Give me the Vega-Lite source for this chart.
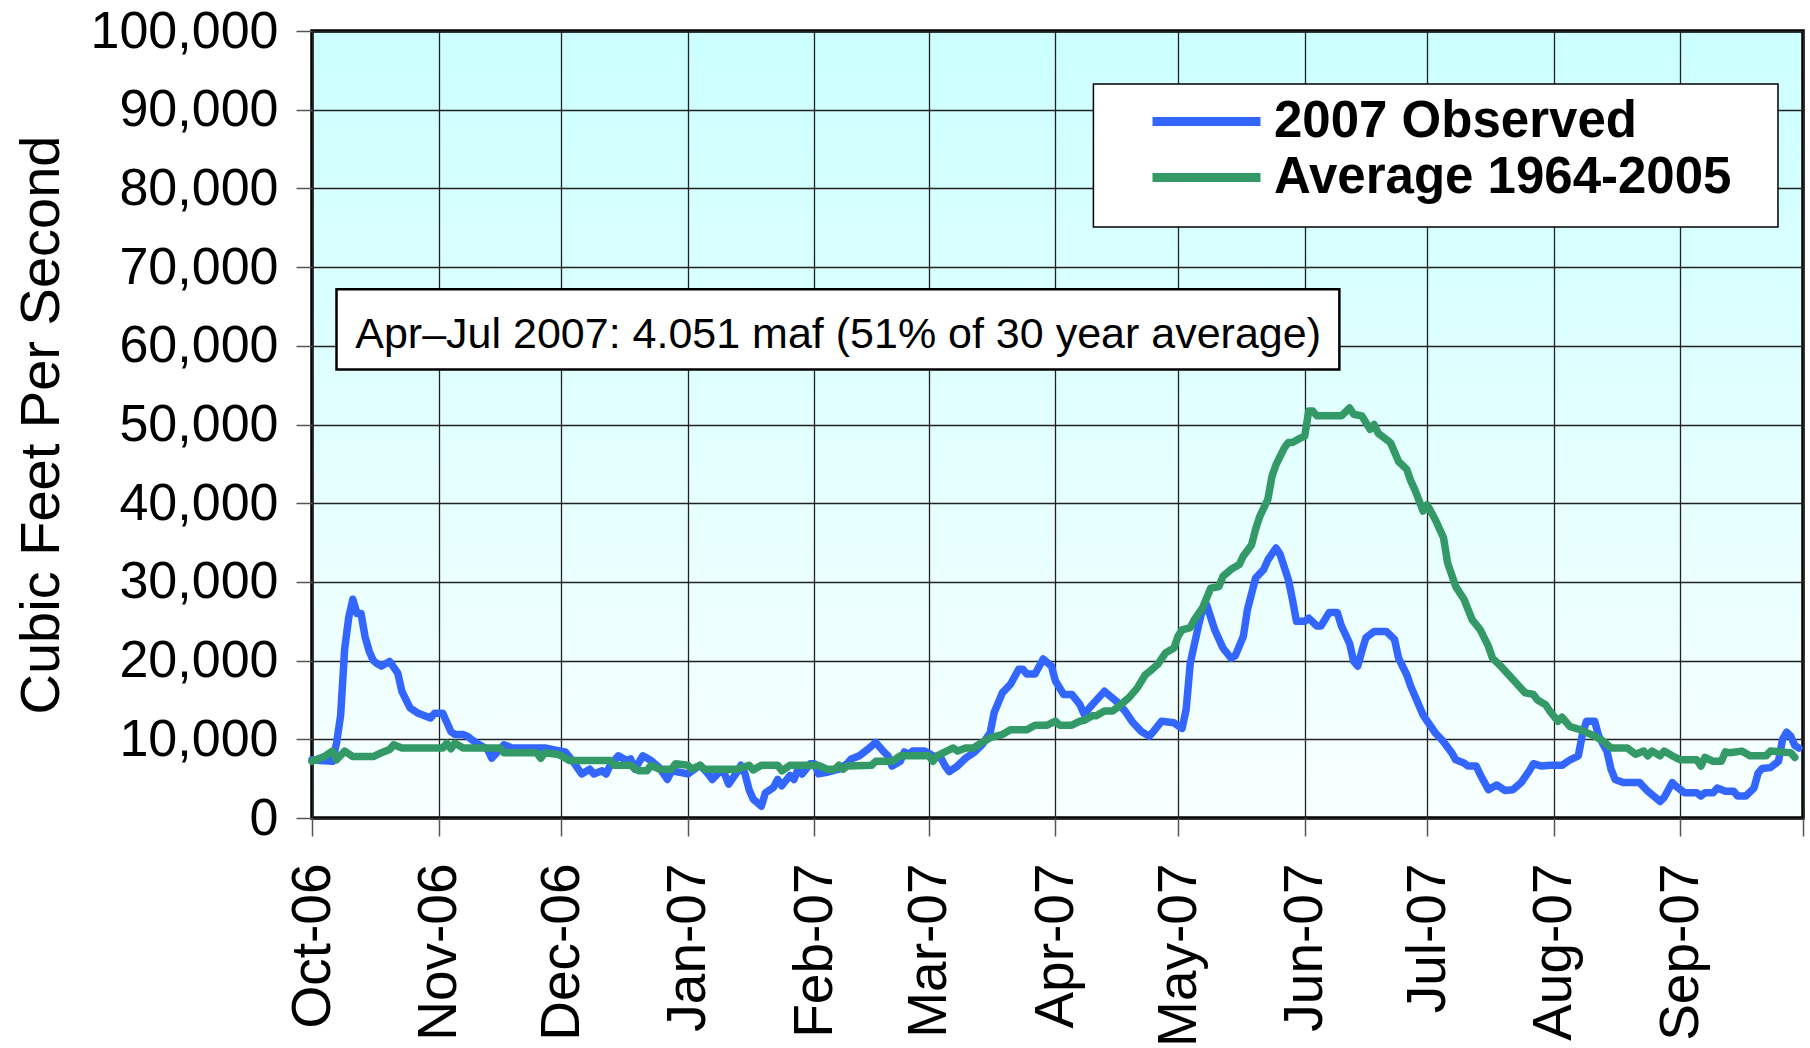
{
  "$schema": "https://vega.github.io/schema/vega-lite/v6.json",
  "width": 1491,
  "height": 787,
  "autosize": {"type": "none"},
  "padding": {"left": 312, "top": 31, "right": 7, "bottom": 230},
  "background": "white",
  "config": {
    "font": "Liberation Sans",
    "view": {
      "fill": {"gradient": "linear", "x1": 0, "y1": 0, "x2": 0, "y2": 1,
        "stops": [{"offset": 0, "color": "#ccffff"}, {"offset": 1, "color": "#f8ffff"}]},
      "stroke": "#000000",
      "strokeWidth": 3.5
    },
    "axis": {
      "labelFont": "Liberation Sans",
      "labelColor": "#000000",
      "titleFont": "Liberation Sans",
      "titleColor": "#000000",
      "gridColor": "#222222",
      "gridWidth": 1.3,
      "tickColor": "#555555",
      "tickWidth": 1.5,
      "domain": false,
      "labelFlush": false,
      "labelOverlap": false,
      "labelBound": false,
      "labelLimit": 500
    }
  },
  "data": {
    "format": {"parse": {"date": "date:'%Y-%m-%d'"}},
    "values": [
      {"date": "2006-10-01", "series": "2007 Observed", "cfs": 7400},
      {"date": "2006-10-03", "series": "2007 Observed", "cfs": 7300},
      {"date": "2006-10-06", "series": "2007 Observed", "cfs": 7200},
      {"date": "2006-10-07", "series": "2007 Observed", "cfs": 9500},
      {"date": "2006-10-08", "series": "2007 Observed", "cfs": 13000},
      {"date": "2006-10-09", "series": "2007 Observed", "cfs": 21500},
      {"date": "2006-10-10", "series": "2007 Observed", "cfs": 25500},
      {"date": "2006-10-11", "series": "2007 Observed", "cfs": 27800},
      {"date": "2006-10-12", "series": "2007 Observed", "cfs": 26000},
      {"date": "2006-10-13", "series": "2007 Observed", "cfs": 26000},
      {"date": "2006-10-14", "series": "2007 Observed", "cfs": 23000},
      {"date": "2006-10-15", "series": "2007 Observed", "cfs": 21200},
      {"date": "2006-10-16", "series": "2007 Observed", "cfs": 20000},
      {"date": "2006-10-17", "series": "2007 Observed", "cfs": 19600},
      {"date": "2006-10-18", "series": "2007 Observed", "cfs": 19300},
      {"date": "2006-10-20", "series": "2007 Observed", "cfs": 19900},
      {"date": "2006-10-22", "series": "2007 Observed", "cfs": 18400},
      {"date": "2006-10-23", "series": "2007 Observed", "cfs": 16100},
      {"date": "2006-10-25", "series": "2007 Observed", "cfs": 14000},
      {"date": "2006-10-27", "series": "2007 Observed", "cfs": 13300},
      {"date": "2006-10-30", "series": "2007 Observed", "cfs": 12700},
      {"date": "2006-10-31", "series": "2007 Observed", "cfs": 13300},
      {"date": "2006-11-02", "series": "2007 Observed", "cfs": 13300},
      {"date": "2006-11-04", "series": "2007 Observed", "cfs": 11000},
      {"date": "2006-11-05", "series": "2007 Observed", "cfs": 10600},
      {"date": "2006-11-07", "series": "2007 Observed", "cfs": 10600},
      {"date": "2006-11-08", "series": "2007 Observed", "cfs": 10400},
      {"date": "2006-11-09", "series": "2007 Observed", "cfs": 10000},
      {"date": "2006-11-11", "series": "2007 Observed", "cfs": 9300},
      {"date": "2006-11-13", "series": "2007 Observed", "cfs": 8700},
      {"date": "2006-11-14", "series": "2007 Observed", "cfs": 7600},
      {"date": "2006-11-16", "series": "2007 Observed", "cfs": 8700},
      {"date": "2006-11-17", "series": "2007 Observed", "cfs": 9300},
      {"date": "2006-11-19", "series": "2007 Observed", "cfs": 8900},
      {"date": "2006-11-27", "series": "2007 Observed", "cfs": 8900},
      {"date": "2006-11-30", "series": "2007 Observed", "cfs": 8600},
      {"date": "2006-12-02", "series": "2007 Observed", "cfs": 8400},
      {"date": "2006-12-04", "series": "2007 Observed", "cfs": 7100},
      {"date": "2006-12-06", "series": "2007 Observed", "cfs": 5600},
      {"date": "2006-12-08", "series": "2007 Observed", "cfs": 6200},
      {"date": "2006-12-09", "series": "2007 Observed", "cfs": 5600},
      {"date": "2006-12-11", "series": "2007 Observed", "cfs": 6000},
      {"date": "2006-12-12", "series": "2007 Observed", "cfs": 5600},
      {"date": "2006-12-13", "series": "2007 Observed", "cfs": 6700},
      {"date": "2006-12-15", "series": "2007 Observed", "cfs": 7900},
      {"date": "2006-12-17", "series": "2007 Observed", "cfs": 7300},
      {"date": "2006-12-18", "series": "2007 Observed", "cfs": 7500},
      {"date": "2006-12-19", "series": "2007 Observed", "cfs": 6200},
      {"date": "2006-12-21", "series": "2007 Observed", "cfs": 7900},
      {"date": "2006-12-23", "series": "2007 Observed", "cfs": 7300},
      {"date": "2006-12-25", "series": "2007 Observed", "cfs": 6400},
      {"date": "2006-12-27", "series": "2007 Observed", "cfs": 4900},
      {"date": "2006-12-28", "series": "2007 Observed", "cfs": 6000},
      {"date": "2007-01-01", "series": "2007 Observed", "cfs": 5600},
      {"date": "2007-01-04", "series": "2007 Observed", "cfs": 6700},
      {"date": "2007-01-06", "series": "2007 Observed", "cfs": 5600},
      {"date": "2007-01-07", "series": "2007 Observed", "cfs": 4900},
      {"date": "2007-01-09", "series": "2007 Observed", "cfs": 6000},
      {"date": "2007-01-10", "series": "2007 Observed", "cfs": 5600},
      {"date": "2007-01-11", "series": "2007 Observed", "cfs": 4300},
      {"date": "2007-01-13", "series": "2007 Observed", "cfs": 5800},
      {"date": "2007-01-14", "series": "2007 Observed", "cfs": 6700},
      {"date": "2007-01-15", "series": "2007 Observed", "cfs": 5600},
      {"date": "2007-01-16", "series": "2007 Observed", "cfs": 3600},
      {"date": "2007-01-17", "series": "2007 Observed", "cfs": 2400},
      {"date": "2007-01-19", "series": "2007 Observed", "cfs": 1500},
      {"date": "2007-01-20", "series": "2007 Observed", "cfs": 3200},
      {"date": "2007-01-22", "series": "2007 Observed", "cfs": 3900},
      {"date": "2007-01-23", "series": "2007 Observed", "cfs": 4900},
      {"date": "2007-01-24", "series": "2007 Observed", "cfs": 4100},
      {"date": "2007-01-26", "series": "2007 Observed", "cfs": 5400},
      {"date": "2007-01-27", "series": "2007 Observed", "cfs": 4900},
      {"date": "2007-01-28", "series": "2007 Observed", "cfs": 6200},
      {"date": "2007-01-29", "series": "2007 Observed", "cfs": 5600},
      {"date": "2007-01-31", "series": "2007 Observed", "cfs": 6900},
      {"date": "2007-02-01", "series": "2007 Observed", "cfs": 6900},
      {"date": "2007-02-02", "series": "2007 Observed", "cfs": 5600},
      {"date": "2007-02-04", "series": "2007 Observed", "cfs": 5800},
      {"date": "2007-02-07", "series": "2007 Observed", "cfs": 6200},
      {"date": "2007-02-09", "series": "2007 Observed", "cfs": 6900},
      {"date": "2007-02-10", "series": "2007 Observed", "cfs": 7500},
      {"date": "2007-02-12", "series": "2007 Observed", "cfs": 7900},
      {"date": "2007-02-14", "series": "2007 Observed", "cfs": 8700},
      {"date": "2007-02-16", "series": "2007 Observed", "cfs": 9600},
      {"date": "2007-02-18", "series": "2007 Observed", "cfs": 8400},
      {"date": "2007-02-19", "series": "2007 Observed", "cfs": 7900},
      {"date": "2007-02-20", "series": "2007 Observed", "cfs": 6600},
      {"date": "2007-02-22", "series": "2007 Observed", "cfs": 7200},
      {"date": "2007-02-23", "series": "2007 Observed", "cfs": 8400},
      {"date": "2007-02-24", "series": "2007 Observed", "cfs": 8100},
      {"date": "2007-02-25", "series": "2007 Observed", "cfs": 8500},
      {"date": "2007-02-28", "series": "2007 Observed", "cfs": 8500},
      {"date": "2007-03-02", "series": "2007 Observed", "cfs": 7900},
      {"date": "2007-03-04", "series": "2007 Observed", "cfs": 7600},
      {"date": "2007-03-05", "series": "2007 Observed", "cfs": 6600},
      {"date": "2007-03-06", "series": "2007 Observed", "cfs": 5900},
      {"date": "2007-03-08", "series": "2007 Observed", "cfs": 6600},
      {"date": "2007-03-10", "series": "2007 Observed", "cfs": 7600},
      {"date": "2007-03-12", "series": "2007 Observed", "cfs": 8300},
      {"date": "2007-03-14", "series": "2007 Observed", "cfs": 9300},
      {"date": "2007-03-16", "series": "2007 Observed", "cfs": 10800},
      {"date": "2007-03-17", "series": "2007 Observed", "cfs": 13400},
      {"date": "2007-03-19", "series": "2007 Observed", "cfs": 15900},
      {"date": "2007-03-21", "series": "2007 Observed", "cfs": 17000},
      {"date": "2007-03-23", "series": "2007 Observed", "cfs": 18900},
      {"date": "2007-03-24", "series": "2007 Observed", "cfs": 18900},
      {"date": "2007-03-25", "series": "2007 Observed", "cfs": 18300},
      {"date": "2007-03-27", "series": "2007 Observed", "cfs": 18300},
      {"date": "2007-03-29", "series": "2007 Observed", "cfs": 20200},
      {"date": "2007-03-31", "series": "2007 Observed", "cfs": 19300},
      {"date": "2007-04-01", "series": "2007 Observed", "cfs": 17400},
      {"date": "2007-04-03", "series": "2007 Observed", "cfs": 15700},
      {"date": "2007-04-05", "series": "2007 Observed", "cfs": 15700},
      {"date": "2007-04-07", "series": "2007 Observed", "cfs": 14400},
      {"date": "2007-04-08", "series": "2007 Observed", "cfs": 13200},
      {"date": "2007-04-10", "series": "2007 Observed", "cfs": 14400},
      {"date": "2007-04-13", "series": "2007 Observed", "cfs": 16100},
      {"date": "2007-04-16", "series": "2007 Observed", "cfs": 14800},
      {"date": "2007-04-18", "series": "2007 Observed", "cfs": 13600},
      {"date": "2007-04-20", "series": "2007 Observed", "cfs": 12100},
      {"date": "2007-04-22", "series": "2007 Observed", "cfs": 11000},
      {"date": "2007-04-24", "series": "2007 Observed", "cfs": 10400},
      {"date": "2007-04-25", "series": "2007 Observed", "cfs": 11000},
      {"date": "2007-04-27", "series": "2007 Observed", "cfs": 12300},
      {"date": "2007-04-30", "series": "2007 Observed", "cfs": 12100},
      {"date": "2007-05-02", "series": "2007 Observed", "cfs": 11400},
      {"date": "2007-05-03", "series": "2007 Observed", "cfs": 13800},
      {"date": "2007-05-04", "series": "2007 Observed", "cfs": 19700},
      {"date": "2007-05-06", "series": "2007 Observed", "cfs": 24400},
      {"date": "2007-05-07", "series": "2007 Observed", "cfs": 26500},
      {"date": "2007-05-08", "series": "2007 Observed", "cfs": 27100},
      {"date": "2007-05-10", "series": "2007 Observed", "cfs": 23900},
      {"date": "2007-05-12", "series": "2007 Observed", "cfs": 21600},
      {"date": "2007-05-14", "series": "2007 Observed", "cfs": 20300},
      {"date": "2007-05-15", "series": "2007 Observed", "cfs": 20600},
      {"date": "2007-05-17", "series": "2007 Observed", "cfs": 23100},
      {"date": "2007-05-18", "series": "2007 Observed", "cfs": 26500},
      {"date": "2007-05-20", "series": "2007 Observed", "cfs": 30500},
      {"date": "2007-05-22", "series": "2007 Observed", "cfs": 31600},
      {"date": "2007-05-23", "series": "2007 Observed", "cfs": 32800},
      {"date": "2007-05-25", "series": "2007 Observed", "cfs": 34300},
      {"date": "2007-05-26", "series": "2007 Observed", "cfs": 33500},
      {"date": "2007-05-28", "series": "2007 Observed", "cfs": 30300},
      {"date": "2007-05-29", "series": "2007 Observed", "cfs": 27800},
      {"date": "2007-05-30", "series": "2007 Observed", "cfs": 25000},
      {"date": "2007-06-01", "series": "2007 Observed", "cfs": 25000},
      {"date": "2007-06-02", "series": "2007 Observed", "cfs": 25400},
      {"date": "2007-06-04", "series": "2007 Observed", "cfs": 24400},
      {"date": "2007-06-05", "series": "2007 Observed", "cfs": 24400},
      {"date": "2007-06-07", "series": "2007 Observed", "cfs": 26100},
      {"date": "2007-06-09", "series": "2007 Observed", "cfs": 26100},
      {"date": "2007-06-10", "series": "2007 Observed", "cfs": 24400},
      {"date": "2007-06-12", "series": "2007 Observed", "cfs": 22200},
      {"date": "2007-06-13", "series": "2007 Observed", "cfs": 19900},
      {"date": "2007-06-14", "series": "2007 Observed", "cfs": 19300},
      {"date": "2007-06-15", "series": "2007 Observed", "cfs": 21200},
      {"date": "2007-06-16", "series": "2007 Observed", "cfs": 22900},
      {"date": "2007-06-18", "series": "2007 Observed", "cfs": 23700},
      {"date": "2007-06-21", "series": "2007 Observed", "cfs": 23700},
      {"date": "2007-06-23", "series": "2007 Observed", "cfs": 22700},
      {"date": "2007-06-24", "series": "2007 Observed", "cfs": 20300},
      {"date": "2007-06-26", "series": "2007 Observed", "cfs": 18200},
      {"date": "2007-06-27", "series": "2007 Observed", "cfs": 16700},
      {"date": "2007-06-30", "series": "2007 Observed", "cfs": 13100},
      {"date": "2007-07-01", "series": "2007 Observed", "cfs": 12300},
      {"date": "2007-07-03", "series": "2007 Observed", "cfs": 10800},
      {"date": "2007-07-05", "series": "2007 Observed", "cfs": 9700},
      {"date": "2007-07-07", "series": "2007 Observed", "cfs": 8300},
      {"date": "2007-07-08", "series": "2007 Observed", "cfs": 7400},
      {"date": "2007-07-10", "series": "2007 Observed", "cfs": 7000},
      {"date": "2007-07-11", "series": "2007 Observed", "cfs": 6600},
      {"date": "2007-07-13", "series": "2007 Observed", "cfs": 6600},
      {"date": "2007-07-14", "series": "2007 Observed", "cfs": 5500},
      {"date": "2007-07-16", "series": "2007 Observed", "cfs": 3600},
      {"date": "2007-07-18", "series": "2007 Observed", "cfs": 4200},
      {"date": "2007-07-20", "series": "2007 Observed", "cfs": 3500},
      {"date": "2007-07-22", "series": "2007 Observed", "cfs": 3600},
      {"date": "2007-07-24", "series": "2007 Observed", "cfs": 4500},
      {"date": "2007-07-26", "series": "2007 Observed", "cfs": 6000},
      {"date": "2007-07-27", "series": "2007 Observed", "cfs": 6900},
      {"date": "2007-07-29", "series": "2007 Observed", "cfs": 6600},
      {"date": "2007-07-31", "series": "2007 Observed", "cfs": 6700},
      {"date": "2007-08-03", "series": "2007 Observed", "cfs": 6700},
      {"date": "2007-08-05", "series": "2007 Observed", "cfs": 7400},
      {"date": "2007-08-07", "series": "2007 Observed", "cfs": 7900},
      {"date": "2007-08-08", "series": "2007 Observed", "cfs": 10600},
      {"date": "2007-08-09", "series": "2007 Observed", "cfs": 12300},
      {"date": "2007-08-11", "series": "2007 Observed", "cfs": 12300},
      {"date": "2007-08-12", "series": "2007 Observed", "cfs": 10400},
      {"date": "2007-08-14", "series": "2007 Observed", "cfs": 8500},
      {"date": "2007-08-15", "series": "2007 Observed", "cfs": 6200},
      {"date": "2007-08-16", "series": "2007 Observed", "cfs": 4900},
      {"date": "2007-08-18", "series": "2007 Observed", "cfs": 4500},
      {"date": "2007-08-22", "series": "2007 Observed", "cfs": 4500},
      {"date": "2007-08-24", "series": "2007 Observed", "cfs": 3400},
      {"date": "2007-08-27", "series": "2007 Observed", "cfs": 2100},
      {"date": "2007-08-28", "series": "2007 Observed", "cfs": 2600},
      {"date": "2007-08-30", "series": "2007 Observed", "cfs": 4500},
      {"date": "2007-08-31", "series": "2007 Observed", "cfs": 4000},
      {"date": "2007-09-02", "series": "2007 Observed", "cfs": 3200},
      {"date": "2007-09-05", "series": "2007 Observed", "cfs": 3200},
      {"date": "2007-09-06", "series": "2007 Observed", "cfs": 2800},
      {"date": "2007-09-07", "series": "2007 Observed", "cfs": 3200},
      {"date": "2007-09-09", "series": "2007 Observed", "cfs": 3200},
      {"date": "2007-09-10", "series": "2007 Observed", "cfs": 3800},
      {"date": "2007-09-12", "series": "2007 Observed", "cfs": 3400},
      {"date": "2007-09-14", "series": "2007 Observed", "cfs": 3400},
      {"date": "2007-09-15", "series": "2007 Observed", "cfs": 2800},
      {"date": "2007-09-17", "series": "2007 Observed", "cfs": 2800},
      {"date": "2007-09-19", "series": "2007 Observed", "cfs": 3800},
      {"date": "2007-09-20", "series": "2007 Observed", "cfs": 5700},
      {"date": "2007-09-21", "series": "2007 Observed", "cfs": 6300},
      {"date": "2007-09-23", "series": "2007 Observed", "cfs": 6400},
      {"date": "2007-09-25", "series": "2007 Observed", "cfs": 7200},
      {"date": "2007-09-26", "series": "2007 Observed", "cfs": 10000},
      {"date": "2007-09-27", "series": "2007 Observed", "cfs": 10900},
      {"date": "2007-09-28", "series": "2007 Observed", "cfs": 10400},
      {"date": "2007-09-29", "series": "2007 Observed", "cfs": 9200},
      {"date": "2007-09-30", "series": "2007 Observed", "cfs": 8900},
      {"date": "2006-10-01", "series": "Average 1964-2005", "cfs": 7200},
      {"date": "2006-10-04", "series": "Average 1964-2005", "cfs": 7800},
      {"date": "2006-10-06", "series": "Average 1964-2005", "cfs": 8500},
      {"date": "2006-10-07", "series": "Average 1964-2005", "cfs": 7400},
      {"date": "2006-10-09", "series": "Average 1964-2005", "cfs": 8500},
      {"date": "2006-10-11", "series": "Average 1964-2005", "cfs": 7800},
      {"date": "2006-10-16", "series": "Average 1964-2005", "cfs": 7800},
      {"date": "2006-10-18", "series": "Average 1964-2005", "cfs": 8300},
      {"date": "2006-10-20", "series": "Average 1964-2005", "cfs": 8700},
      {"date": "2006-10-21", "series": "Average 1964-2005", "cfs": 9300},
      {"date": "2006-10-23", "series": "Average 1964-2005", "cfs": 8900},
      {"date": "2006-11-02", "series": "Average 1964-2005", "cfs": 8900},
      {"date": "2006-11-03", "series": "Average 1964-2005", "cfs": 9500},
      {"date": "2006-11-04", "series": "Average 1964-2005", "cfs": 8800},
      {"date": "2006-11-05", "series": "Average 1964-2005", "cfs": 9500},
      {"date": "2006-11-07", "series": "Average 1964-2005", "cfs": 8900},
      {"date": "2006-11-16", "series": "Average 1964-2005", "cfs": 8900},
      {"date": "2006-11-17", "series": "Average 1964-2005", "cfs": 8300},
      {"date": "2006-11-25", "series": "Average 1964-2005", "cfs": 8300},
      {"date": "2006-11-26", "series": "Average 1964-2005", "cfs": 7600},
      {"date": "2006-11-27", "series": "Average 1964-2005", "cfs": 8300},
      {"date": "2006-11-30", "series": "Average 1964-2005", "cfs": 8100},
      {"date": "2006-12-01", "series": "Average 1964-2005", "cfs": 7900},
      {"date": "2006-12-03", "series": "Average 1964-2005", "cfs": 7300},
      {"date": "2006-12-13", "series": "Average 1964-2005", "cfs": 7300},
      {"date": "2006-12-14", "series": "Average 1964-2005", "cfs": 6700},
      {"date": "2006-12-18", "series": "Average 1964-2005", "cfs": 6700},
      {"date": "2006-12-20", "series": "Average 1964-2005", "cfs": 6000},
      {"date": "2006-12-22", "series": "Average 1964-2005", "cfs": 6000},
      {"date": "2006-12-23", "series": "Average 1964-2005", "cfs": 6700},
      {"date": "2006-12-25", "series": "Average 1964-2005", "cfs": 6200},
      {"date": "2006-12-28", "series": "Average 1964-2005", "cfs": 6200},
      {"date": "2006-12-29", "series": "Average 1964-2005", "cfs": 6900},
      {"date": "2007-01-01", "series": "Average 1964-2005", "cfs": 6700},
      {"date": "2007-01-02", "series": "Average 1964-2005", "cfs": 6200},
      {"date": "2007-01-04", "series": "Average 1964-2005", "cfs": 6700},
      {"date": "2007-01-05", "series": "Average 1964-2005", "cfs": 6200},
      {"date": "2007-01-13", "series": "Average 1964-2005", "cfs": 6200},
      {"date": "2007-01-16", "series": "Average 1964-2005", "cfs": 6700},
      {"date": "2007-01-17", "series": "Average 1964-2005", "cfs": 6100},
      {"date": "2007-01-19", "series": "Average 1964-2005", "cfs": 6700},
      {"date": "2007-01-23", "series": "Average 1964-2005", "cfs": 6700},
      {"date": "2007-01-24", "series": "Average 1964-2005", "cfs": 6000},
      {"date": "2007-01-26", "series": "Average 1964-2005", "cfs": 6700},
      {"date": "2007-02-02", "series": "Average 1964-2005", "cfs": 6700},
      {"date": "2007-02-04", "series": "Average 1964-2005", "cfs": 6200},
      {"date": "2007-02-06", "series": "Average 1964-2005", "cfs": 6200},
      {"date": "2007-02-07", "series": "Average 1964-2005", "cfs": 6700},
      {"date": "2007-02-08", "series": "Average 1964-2005", "cfs": 6200},
      {"date": "2007-02-09", "series": "Average 1964-2005", "cfs": 6600},
      {"date": "2007-02-15", "series": "Average 1964-2005", "cfs": 6700},
      {"date": "2007-02-16", "series": "Average 1964-2005", "cfs": 7200},
      {"date": "2007-02-20", "series": "Average 1964-2005", "cfs": 7200},
      {"date": "2007-02-22", "series": "Average 1964-2005", "cfs": 7900},
      {"date": "2007-03-01", "series": "Average 1964-2005", "cfs": 7900},
      {"date": "2007-03-02", "series": "Average 1964-2005", "cfs": 7200},
      {"date": "2007-03-03", "series": "Average 1964-2005", "cfs": 7900},
      {"date": "2007-03-05", "series": "Average 1964-2005", "cfs": 8400},
      {"date": "2007-03-07", "series": "Average 1964-2005", "cfs": 8900},
      {"date": "2007-03-08", "series": "Average 1964-2005", "cfs": 8500},
      {"date": "2007-03-10", "series": "Average 1964-2005", "cfs": 8900},
      {"date": "2007-03-12", "series": "Average 1964-2005", "cfs": 8900},
      {"date": "2007-03-14", "series": "Average 1964-2005", "cfs": 9600},
      {"date": "2007-03-16", "series": "Average 1964-2005", "cfs": 10200},
      {"date": "2007-03-19", "series": "Average 1964-2005", "cfs": 10600},
      {"date": "2007-03-21", "series": "Average 1964-2005", "cfs": 11200},
      {"date": "2007-03-25", "series": "Average 1964-2005", "cfs": 11200},
      {"date": "2007-03-27", "series": "Average 1964-2005", "cfs": 11800},
      {"date": "2007-03-30", "series": "Average 1964-2005", "cfs": 11800},
      {"date": "2007-04-01", "series": "Average 1964-2005", "cfs": 12300},
      {"date": "2007-04-02", "series": "Average 1964-2005", "cfs": 11800},
      {"date": "2007-04-05", "series": "Average 1964-2005", "cfs": 11800},
      {"date": "2007-04-07", "series": "Average 1964-2005", "cfs": 12300},
      {"date": "2007-04-08", "series": "Average 1964-2005", "cfs": 12400},
      {"date": "2007-04-10", "series": "Average 1964-2005", "cfs": 13000},
      {"date": "2007-04-11", "series": "Average 1964-2005", "cfs": 13000},
      {"date": "2007-04-13", "series": "Average 1964-2005", "cfs": 13600},
      {"date": "2007-04-15", "series": "Average 1964-2005", "cfs": 13600},
      {"date": "2007-04-17", "series": "Average 1964-2005", "cfs": 14400},
      {"date": "2007-04-19", "series": "Average 1964-2005", "cfs": 15300},
      {"date": "2007-04-21", "series": "Average 1964-2005", "cfs": 16500},
      {"date": "2007-04-23", "series": "Average 1964-2005", "cfs": 18200},
      {"date": "2007-04-24", "series": "Average 1964-2005", "cfs": 18600},
      {"date": "2007-04-26", "series": "Average 1964-2005", "cfs": 19500},
      {"date": "2007-04-28", "series": "Average 1964-2005", "cfs": 21000},
      {"date": "2007-04-30", "series": "Average 1964-2005", "cfs": 21600},
      {"date": "2007-05-01", "series": "Average 1964-2005", "cfs": 23100},
      {"date": "2007-05-02", "series": "Average 1964-2005", "cfs": 23900},
      {"date": "2007-05-04", "series": "Average 1964-2005", "cfs": 24200},
      {"date": "2007-05-05", "series": "Average 1964-2005", "cfs": 25200},
      {"date": "2007-05-07", "series": "Average 1964-2005", "cfs": 26700},
      {"date": "2007-05-09", "series": "Average 1964-2005", "cfs": 29200},
      {"date": "2007-05-11", "series": "Average 1964-2005", "cfs": 29400},
      {"date": "2007-05-12", "series": "Average 1964-2005", "cfs": 30700},
      {"date": "2007-05-14", "series": "Average 1964-2005", "cfs": 31600},
      {"date": "2007-05-16", "series": "Average 1964-2005", "cfs": 32200},
      {"date": "2007-05-17", "series": "Average 1964-2005", "cfs": 33300},
      {"date": "2007-05-19", "series": "Average 1964-2005", "cfs": 34700},
      {"date": "2007-05-20", "series": "Average 1964-2005", "cfs": 36700},
      {"date": "2007-05-21", "series": "Average 1964-2005", "cfs": 38300},
      {"date": "2007-05-23", "series": "Average 1964-2005", "cfs": 40500},
      {"date": "2007-05-24", "series": "Average 1964-2005", "cfs": 43400},
      {"date": "2007-05-25", "series": "Average 1964-2005", "cfs": 44900},
      {"date": "2007-05-27", "series": "Average 1964-2005", "cfs": 47000},
      {"date": "2007-05-28", "series": "Average 1964-2005", "cfs": 47700},
      {"date": "2007-05-29", "series": "Average 1964-2005", "cfs": 47700},
      {"date": "2007-05-31", "series": "Average 1964-2005", "cfs": 48300},
      {"date": "2007-06-01", "series": "Average 1964-2005", "cfs": 48500},
      {"date": "2007-06-02", "series": "Average 1964-2005", "cfs": 51700},
      {"date": "2007-06-03", "series": "Average 1964-2005", "cfs": 51700},
      {"date": "2007-06-04", "series": "Average 1964-2005", "cfs": 51100},
      {"date": "2007-06-10", "series": "Average 1964-2005", "cfs": 51100},
      {"date": "2007-06-12", "series": "Average 1964-2005", "cfs": 52100},
      {"date": "2007-06-13", "series": "Average 1964-2005", "cfs": 51300},
      {"date": "2007-06-15", "series": "Average 1964-2005", "cfs": 51100},
      {"date": "2007-06-17", "series": "Average 1964-2005", "cfs": 49400},
      {"date": "2007-06-18", "series": "Average 1964-2005", "cfs": 50000},
      {"date": "2007-06-19", "series": "Average 1964-2005", "cfs": 48900},
      {"date": "2007-06-22", "series": "Average 1964-2005", "cfs": 47700},
      {"date": "2007-06-24", "series": "Average 1964-2005", "cfs": 45300},
      {"date": "2007-06-26", "series": "Average 1964-2005", "cfs": 44300},
      {"date": "2007-06-27", "series": "Average 1964-2005", "cfs": 42800},
      {"date": "2007-06-28", "series": "Average 1964-2005", "cfs": 41700},
      {"date": "2007-06-30", "series": "Average 1964-2005", "cfs": 39000},
      {"date": "2007-07-01", "series": "Average 1964-2005", "cfs": 39800},
      {"date": "2007-07-03", "series": "Average 1964-2005", "cfs": 37900},
      {"date": "2007-07-05", "series": "Average 1964-2005", "cfs": 35600},
      {"date": "2007-07-06", "series": "Average 1964-2005", "cfs": 32400},
      {"date": "2007-07-08", "series": "Average 1964-2005", "cfs": 29400},
      {"date": "2007-07-10", "series": "Average 1964-2005", "cfs": 27800},
      {"date": "2007-07-12", "series": "Average 1964-2005", "cfs": 25200},
      {"date": "2007-07-14", "series": "Average 1964-2005", "cfs": 23900},
      {"date": "2007-07-16", "series": "Average 1964-2005", "cfs": 21800},
      {"date": "2007-07-17", "series": "Average 1964-2005", "cfs": 20300},
      {"date": "2007-07-19", "series": "Average 1964-2005", "cfs": 19300},
      {"date": "2007-07-22", "series": "Average 1964-2005", "cfs": 17600},
      {"date": "2007-07-25", "series": "Average 1964-2005", "cfs": 15900},
      {"date": "2007-07-27", "series": "Average 1964-2005", "cfs": 15700},
      {"date": "2007-07-28", "series": "Average 1964-2005", "cfs": 15000},
      {"date": "2007-07-30", "series": "Average 1964-2005", "cfs": 14400},
      {"date": "2007-07-31", "series": "Average 1964-2005", "cfs": 13600},
      {"date": "2007-08-02", "series": "Average 1964-2005", "cfs": 12300},
      {"date": "2007-08-03", "series": "Average 1964-2005", "cfs": 12800},
      {"date": "2007-08-05", "series": "Average 1964-2005", "cfs": 11600},
      {"date": "2007-08-07", "series": "Average 1964-2005", "cfs": 11300},
      {"date": "2007-08-08", "series": "Average 1964-2005", "cfs": 11100},
      {"date": "2007-08-11", "series": "Average 1964-2005", "cfs": 10400},
      {"date": "2007-08-13", "series": "Average 1964-2005", "cfs": 9800},
      {"date": "2007-08-15", "series": "Average 1964-2005", "cfs": 8900},
      {"date": "2007-08-19", "series": "Average 1964-2005", "cfs": 8900},
      {"date": "2007-08-21", "series": "Average 1964-2005", "cfs": 8100},
      {"date": "2007-08-23", "series": "Average 1964-2005", "cfs": 8500},
      {"date": "2007-08-24", "series": "Average 1964-2005", "cfs": 7900},
      {"date": "2007-08-25", "series": "Average 1964-2005", "cfs": 8500},
      {"date": "2007-08-27", "series": "Average 1964-2005", "cfs": 7900},
      {"date": "2007-08-28", "series": "Average 1964-2005", "cfs": 8500},
      {"date": "2007-08-30", "series": "Average 1964-2005", "cfs": 7900},
      {"date": "2007-09-01", "series": "Average 1964-2005", "cfs": 7400},
      {"date": "2007-09-05", "series": "Average 1964-2005", "cfs": 7400},
      {"date": "2007-09-06", "series": "Average 1964-2005", "cfs": 6600},
      {"date": "2007-09-07", "series": "Average 1964-2005", "cfs": 7700},
      {"date": "2007-09-09", "series": "Average 1964-2005", "cfs": 7200},
      {"date": "2007-09-11", "series": "Average 1964-2005", "cfs": 7200},
      {"date": "2007-09-12", "series": "Average 1964-2005", "cfs": 8400},
      {"date": "2007-09-13", "series": "Average 1964-2005", "cfs": 8300},
      {"date": "2007-09-16", "series": "Average 1964-2005", "cfs": 8500},
      {"date": "2007-09-18", "series": "Average 1964-2005", "cfs": 7900},
      {"date": "2007-09-22", "series": "Average 1964-2005", "cfs": 7900},
      {"date": "2007-09-23", "series": "Average 1964-2005", "cfs": 8500},
      {"date": "2007-09-28", "series": "Average 1964-2005", "cfs": 8300},
      {"date": "2007-09-29", "series": "Average 1964-2005", "cfs": 7700}
    ]
  },
  "layer": [
    {
      "transform": [{"filter": "datum.series === '2007 Observed'"}],
      "mark": {"type": "line", "strokeWidth": 7.5, "strokeJoin": "round", "strokeCap": "round"},
      "encoding": {
        "x": {
          "field": "date", "type": "temporal",
          "scale": {"domain": [{"year": 2006, "month": 10, "date": 1}, {"year": 2007, "month": 10, "date": 1}], "nice": false},
          "axis": {
            "title": null,
            "values": [
              {"year": 2006, "month": 10, "date": 1}, {"year": 2006, "month": 11, "date": 1}, {"year": 2006, "month": 12, "date": 1},
              {"year": 2007, "month": 1, "date": 1}, {"year": 2007, "month": 2, "date": 1}, {"year": 2007, "month": 3, "date": 1},
              {"year": 2007, "month": 4, "date": 1}, {"year": 2007, "month": 5, "date": 1}, {"year": 2007, "month": 6, "date": 1},
              {"year": 2007, "month": 7, "date": 1}, {"year": 2007, "month": 8, "date": 1}, {"year": 2007, "month": 9, "date": 1},
              {"year": 2007, "month": 10, "date": 1}
            ],
            "labelExpr": "(year(datum.value) == 2007 && month(datum.value) == 9) ? '' : timeFormat(datum.value, '%b-%y')",
            "labelAngle": 270,
            "labelAlign": "right",
            "labelBaseline": "middle",
            "labelFontSize": 55,
            "labelPadding": 27,
            "labelLimit": 500,
            "tickSize": 18,
            "grid": true
          }
        },
        "y": {
          "field": "cfs", "type": "quantitative",
          "scale": {"domain": [0, 100000], "nice": false},
          "axis": {
            "title": "Cubic Feet Per Second",
            "titleFontSize": 56,
            "titleFontWeight": "normal",
            "titlePadding": 42,
            "values": [0, 10000, 20000, 30000, 40000, 50000, 60000, 70000, 80000, 90000, 100000],
            "format": ",d",
            "labelFontSize": 52,
            "labelPadding": 18,
            "labelLimit": 500,
            "tickSize": 16,
            "grid": true
          }
        },
        "color": {
          "field": "series", "type": "nominal",
          "scale": {"domain": ["2007 Observed", "Average 1964-2005"], "range": ["#3366ff", "#339966"]},
          "legend": {
            "title": null,
            "orient": "none",
            "legendX": 865,
            "legendY": 61,
            "padding": 0,
            "symbolType": "M-2.16,0H2.16",
            "symbolSize": 2500,
            "symbolStrokeWidth": 9,
            "labelFont": "Liberation Sans",
            "labelFontWeight": "bold",
            "labelFontSize": 51,
            "labelColor": "#000000",
            "labelOffset": 38,
            "labelLimit": 1000,
            "rowPadding": 1
          }
        }
      }
    },
    {
      "transform": [{"filter": "datum.series === 'Average 1964-2005'"}],
      "mark": {"type": "line", "strokeWidth": 7.5, "strokeJoin": "round", "strokeCap": "round"},
      "encoding": {
        "x": {"field": "date", "type": "temporal"},
        "y": {"field": "cfs", "type": "quantitative"},
        "color": {"field": "series", "type": "nominal"}
      }
    },
    {
      "data": {"values": [{}]},
      "mark": {"type": "rect", "fill": "#ffffff", "stroke": "#000000", "strokeWidth": 2.5},
      "encoding": {
        "x": {"datum": {"year": 2006, "month": 10, "date": 7}, "type": "temporal"},
        "x2": {"datum": {"year": 2007, "month": 6, "date": 9, "hours": 12}},
        "y": {"datum": 57000, "type": "quantitative"},
        "y2": {"datum": 67200}
      }
    },
    {
      "data": {"values": [{}]},
      "mark": {"type": "text", "font": "Liberation Sans", "fontSize": 43, "align": "center", "baseline": "middle", "color": "#000000",
        "text": "Apr\u2013Jul 2007: 4.051 maf (51% of 30 year average)"},
      "encoding": {
        "x": {"datum": {"year": 2007, "month": 2, "date": 6, "hours": 19}, "type": "temporal"},
        "y": {"datum": 61400, "type": "quantitative"}
      }
    },
    {
      "data": {"values": [{}]},
      "mark": {"type": "rect", "fill": "#ffffff", "stroke": "#000000", "strokeWidth": 1.5},
      "encoding": {
        "x": {"datum": {"year": 2007, "month": 4, "date": 10, "hours": 7}, "type": "temporal"},
        "x2": {"datum": {"year": 2007, "month": 9, "date": 24, "hours": 21}},
        "y": {"datum": 75100, "type": "quantitative"},
        "y2": {"datum": 93270}
      }
    }
  ]
}
